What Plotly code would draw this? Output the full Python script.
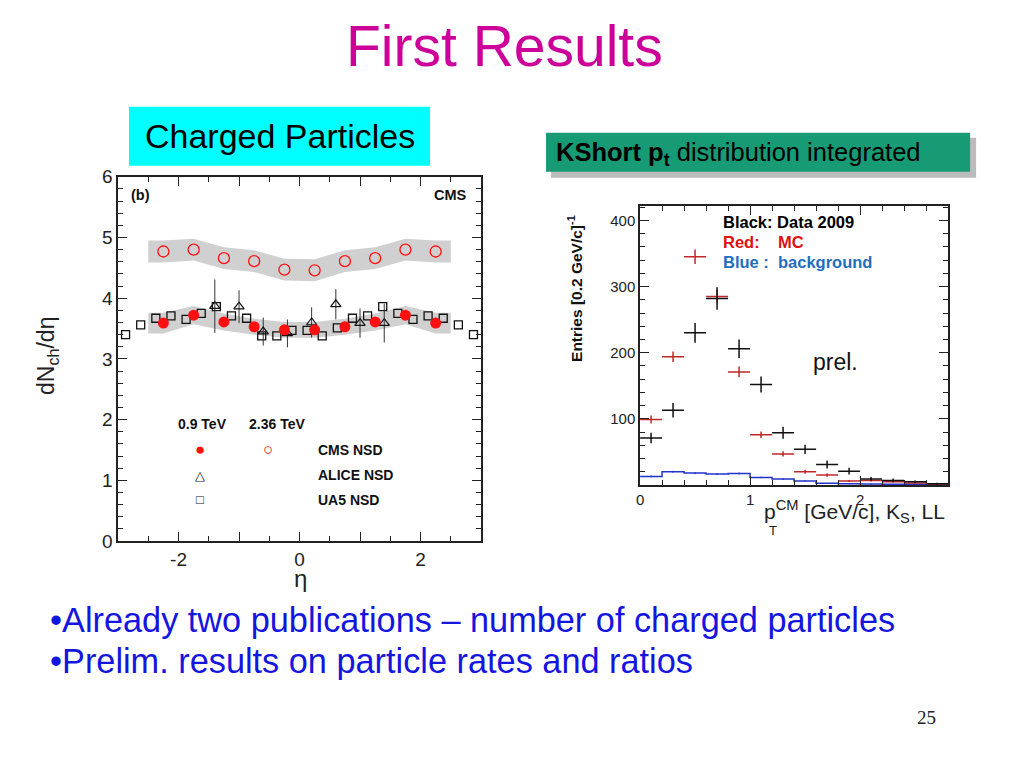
import plotly.graph_objects as go

W, H = 1024, 768
# calibration of the photographed page (measured offset/scale)
X_OFF, X_SC = 11.0, 0.996
Y_OFF, Y_SC = 19.3, 0.972


def px(x):
    return ((x - X_OFF) / X_SC) / W


def py(y):
    return 1 - ((y - Y_OFF) / Y_SC) / H


# ---------------- Left panel data: dN_ch/deta ----------------
cms_eta = [-2.25, -1.75, -1.25, -0.75, -0.25, 0.25, 0.75, 1.25, 1.75, 2.25]
cms_236 = [4.77, 4.80, 4.66, 4.61, 4.47, 4.46, 4.61, 4.66, 4.80, 4.77]
cms_236_syst = [0.18, 0.18, 0.18, 0.18, 0.18, 0.18, 0.18, 0.18, 0.18, 0.18]
cms_09 = [3.59, 3.72, 3.61, 3.53, 3.48, 3.48, 3.53, 3.61, 3.72, 3.59]
cms_09_syst = [0.17, 0.15, 0.14, 0.13, 0.13, 0.13, 0.13, 0.14, 0.15, 0.17]

alice_eta = [-1.4, -1.0, -0.6, -0.2, 0.2, 0.6, 1.0, 1.4]
alice_val = [3.87, 3.86, 3.45, 3.42, 3.60, 3.90, 3.59, 3.59]
alice_err = [0.44, 0.27, 0.23, 0.23, 0.25, 0.25, 0.24, 0.32]

ua5_eta = [-2.875, -2.625, -2.375, -2.125, -1.875, -1.625, -1.375, -1.125,
           -0.875, -0.625, -0.375, -0.125, 0.125, 0.375, 0.625, 0.875,
           1.125, 1.375, 1.625, 1.875, 2.125, 2.375, 2.625, 2.875]
ua5_val = [3.40, 3.56, 3.67, 3.71, 3.65, 3.75, 3.86, 3.71,
           3.67, 3.38, 3.38, 3.47, 3.47, 3.38, 3.51, 3.67,
           3.71, 3.86, 3.75, 3.65, 3.71, 3.67, 3.56, 3.40]

left_xtick_vals = [-2, -1, 0, 1, 2]
left_xtick_text = ["-2", "", "0", "", "2"]

# ---------------- Right panel data: KShort pt ----------------
pt_centers = [0.1, 0.3, 0.5, 0.7, 0.9, 1.1, 1.3, 1.5, 1.7, 1.9, 2.1, 2.3, 2.5, 2.7]
data_2009 = [71, 113, 230, 282, 206, 152, 79, 54, 31, 21, 9, 7, 5, 2]
data_2009_err = [8, 11, 15, 17, 14, 12, 9, 7, 6, 5, 3, 3, 2, 1.5]
mc_vals = [99, 194, 345, 285, 171, 76, 47, 20, 15, 6, 7, 5, 3, 1.5]
mc_err = [6, 8, 11, 10, 8, 5, 4, 3, 2.5, 1.5, 1.5, 1, 1, 0.5]
bkg_vals = [13, 20, 18, 16.5, 17.5, 11.5, 9, 6, 2.5, 2, 1.5, 1, 1, 1]
bkg_err = [1.5, 1.5, 1.5, 1.5, 1.5, 1.2, 1.0, 0.8, 0.5, 0.5, 0.5, 0.4, 0.4, 0.4]
bin_half = 0.1
right_ytick_vals = [100, 200, 300, 400]

FONT = "Liberation Sans, Arial, sans-serif"
RED = "#ff1010"

fig = go.Figure()


def band(xs, vals, syst):
    bx = [xs[0] - 0.25] + list(xs) + [xs[-1] + 0.25]
    bv = [vals[0]] + list(vals) + [vals[-1]]
    bs = [syst[0]] + list(syst) + [syst[-1]]
    up = [v + s for v, s in zip(bv, bs)]
    lo = [v - s for v, s in zip(bv, bs)]
    return bx + bx[::-1], up + lo[::-1]


for vals, syst in [(cms_236, cms_236_syst), (cms_09, cms_09_syst)]:
    bx, by = band(cms_eta, vals, syst)
    fig.add_trace(go.Scatter(x=bx, y=by, fill="toself", mode="lines",
                             line=dict(width=0), fillcolor="rgb(208,208,208)",
                             hoverinfo="skip", xaxis="x", yaxis="y"))

fig.add_trace(go.Scatter(x=ua5_eta, y=ua5_val, mode="markers",
                         marker=dict(symbol="square-open", size=8, color="#111",
                                     line=dict(width=1.3)),
                         xaxis="x", yaxis="y"))
fig.add_trace(go.Scatter(x=alice_eta, y=alice_val, mode="markers",
                         marker=dict(symbol="triangle-up-open", size=9, color="#111",
                                     line=dict(width=1.2)),
                         error_y=dict(type="data", array=alice_err, width=0,
                                      thickness=1, color="#333"),
                         xaxis="x", yaxis="y"))
fig.add_trace(go.Scatter(x=cms_eta, y=cms_09, mode="markers",
                         marker=dict(symbol="circle", size=11, color=RED),
                         xaxis="x", yaxis="y"))
fig.add_trace(go.Scatter(x=cms_eta, y=cms_236, mode="markers",
                         marker=dict(symbol="circle-open", size=11, color=RED,
                                     line=dict(width=1.3)),
                         xaxis="x", yaxis="y"))

# right panel
edges = [c - bin_half for c in pt_centers] + [pt_centers[-1] + bin_half]
fig.add_trace(go.Scatter(x=edges, y=bkg_vals + [bkg_vals[-1]], mode="lines",
                         line=dict(shape="hv", color="#2233cc", width=1.5),
                         xaxis="x2", yaxis="y2"))
fig.add_trace(go.Scatter(x=pt_centers, y=bkg_vals, mode="markers",
                         marker=dict(size=1, color="#2233cc"),
                         error_y=dict(type="data", array=bkg_err, width=0,
                                      thickness=1, color="#2233cc"),
                         xaxis="x2", yaxis="y2"))
fig.add_trace(go.Scatter(x=pt_centers, y=mc_vals, mode="markers",
                         marker=dict(size=1, color="#c02828"),
                         error_x=dict(type="constant", value=bin_half, width=0,
                                      thickness=1.5, color="#c02828"),
                         error_y=dict(type="data", array=mc_err, width=0,
                                      thickness=1.5, color="#c02828"),
                         xaxis="x2", yaxis="y2"))
fig.add_trace(go.Scatter(x=pt_centers, y=data_2009, mode="markers",
                         marker=dict(size=1, color="#111"),
                         error_x=dict(type="constant", value=bin_half, width=0,
                                      thickness=1.5, color="#111"),
                         error_y=dict(type="data", array=data_2009_err, width=0,
                                      thickness=1.5, color="#111"),
                         xaxis="x2", yaxis="y2"))

axis_common = dict(showgrid=False, zeroline=False, showline=True,
                   linecolor="#222", linewidth=1.5, mirror="ticks",
                   ticks="inside", tickcolor="#222", tickwidth=1.2)

fig.update_layout(
    width=W, height=H, margin=dict(l=0, r=0, t=0, b=0),
    paper_bgcolor="white", plot_bgcolor="white", showlegend=False,
    font=dict(family=FONT, color="#111"),
    xaxis=dict(domain=[px(117), px(480)], range=[-3, 3], anchor="y",
               tickvals=left_xtick_vals, ticktext=left_xtick_text, ticklen=9,
               tickfont=dict(size=19, color="#222"),
               minor=dict(tick0=0, dtick=0.5, ticks="inside", ticklen=5,
                          tickcolor="#222"),
               **axis_common),
    yaxis=dict(domain=[py(542), py(178)], range=[0, 6], anchor="x",
               dtick=1, ticklen=9, tickfont=dict(size=19, color="#222"),
               minor=dict(tick0=0, dtick=0.2, ticks="inside", ticklen=5,
                          tickcolor="#222"),
               **axis_common),
    xaxis2=dict(domain=[px(639), px(947)], range=[0, 2.8], anchor="y2",
                dtick=1, ticklen=9, tickfont=dict(size=15, color="#222"),
                minor=dict(tick0=0, dtick=0.2, ticks="inside", ticklen=5,
                           tickcolor="#222"),
                **axis_common),
    yaxis2=dict(domain=[py(486), py(207)], range=[0, 422], anchor="x2",
                tickvals=right_ytick_vals, ticklen=9,
                tickfont=dict(size=15, color="#222"),
                minor=dict(tick0=0, dtick=20, ticks="inside", ticklen=5,
                           tickcolor="#222"),
                **axis_common),
)

shapes = [
    dict(type="rect", xref="paper", yref="paper", x0=px(128), x1=px(429),
         y0=py(167), y1=py(108), fillcolor="#00ffff", line=dict(width=0)),
    dict(type="rect", xref="paper", yref="paper", x0=px(550), x1=px(975),
         y0=py(179), y1=py(139), fillcolor="rgba(120,120,120,0.5)",
         line=dict(width=0)),
    dict(type="rect", xref="paper", yref="paper", x0=px(545), x1=px(969),
         y0=py(173), y1=py(134), fillcolor="#179b74", line=dict(width=0)),
]
fig.update_layout(shapes=shapes)

ann = []


def A(text, x, y, size, color="#111", xanchor="center", yanchor="middle",
      family=FONT, angle=0, xref="paper", yref="paper"):
    ann.append(dict(text=text, x=x, y=y, xref=xref, yref=yref, showarrow=False,
                    xanchor=xanchor, yanchor=yanchor, textangle=angle,
                    font=dict(size=size, color=color, family=family)))


# slide texts
A("First Results", px(503), py(47), 57, color="#cc0099")
A("Charged Particles", px(279), py(137), 34, color="#000")
A("<b>KShort p<sub>t</sub></b> distribution integrated", px(553), py(155), 25.5,
  color="#000", xanchor="left")
A("•Already two publications – number of charged particles", px(47), py(621),
  34.3, color="#1515e0", xanchor="left")
A("•Prelim. results on particle rates and ratios", px(47), py(662), 34.3,
  color="#1515e0", xanchor="left")
A("25", px(925), py(718), 19, color="#222",
  family="Liberation Serif, Times New Roman, serif")

# left panel texts
A("dN<sub>ch</sub>/dη", px(47), py(357), 23, color="#222", angle=-90)
A("η", px(299), py(579), 24, color="#222")
A("<b>(b)</b>", -2.62, 5.70, 14.5, xref="x", yref="y")
A("<b>CMS</b>", 2.80, 5.70, 14.5, xref="x", yref="y", xanchor="right")
A("<b>0.9 TeV</b>", -1.6, 1.93, 14, xref="x", yref="y")
A("<b>2.36 TeV</b>", -0.38, 1.93, 14, xref="x", yref="y")
A("●", -1.65, 1.50, 17, color=RED, xref="x", yref="y")
A("○", -0.52, 1.50, 17, color=RED, xref="x", yref="y")
A("△", -1.65, 1.08, 13, xref="x", yref="y")
A("□", -1.65, 0.68, 13, xref="x", yref="y")
A("<b>CMS NSD</b>", 0.27, 1.50, 14, xref="x", yref="y", xanchor="left")
A("<b>ALICE NSD</b>", 0.27, 1.08, 14, xref="x", yref="y", xanchor="left")
A("<b>UA5 NSD</b>", 0.27, 0.68, 14, xref="x", yref="y", xanchor="left")

# right panel texts
A("<b>Entries [0.2 GeV/c]<sup>-1</sup></b>", px(574), py(290), 15.5, angle=-90)
A("p<sup>CM</sup> [GeV/c], K<sub>S</sub>, LL", px(946), py(512), 21,
  color="#222", xanchor="right")
A("T", px(772), py(531), 13, color="#222")
A("prel.", 1.55, 186, 23, color="#111", xref="x2", yref="y2", xanchor="left")
A("<b>Black: Data 2009</b>", 0.74, 398, 16.5, color="#000", xref="x2", yref="y2",
  xanchor="left")
A("<b>Red:    MC</b>", 0.74, 368, 16.5, color="#e01010", xref="x2", yref="y2",
  xanchor="left")
A("<b>Blue :  background</b>", 0.74, 337, 16.5, color="#1f6fc0", xref="x2",
  yref="y2", xanchor="left")

fig.update_layout(annotations=ann)

fig.write_html("out.html")
